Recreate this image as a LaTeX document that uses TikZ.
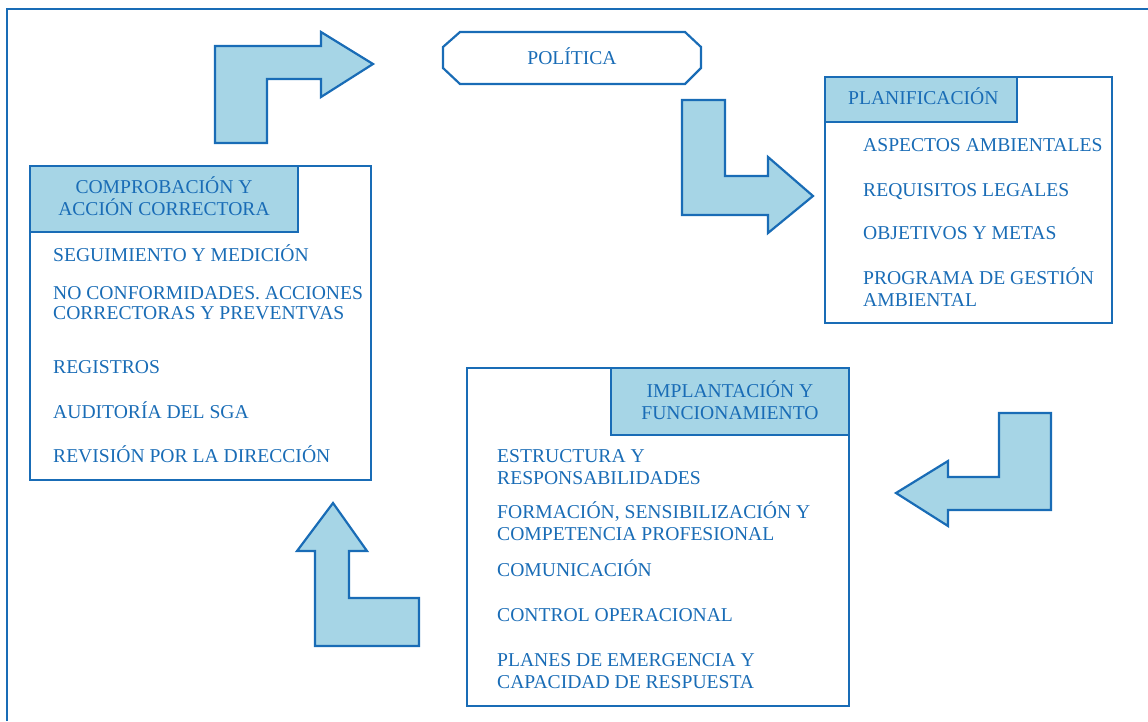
\documentclass[tikz,border=0pt]{standalone}
\usepackage{fontspec}
\setmainfont{Liberation Serif}
\usepackage{tikz}
\usetikzlibrary{positioning, calc}
\definecolor{azulsga}{RGB}{25,108,182}
\definecolor{celeste}{RGB}{166,213,230}
\newcommand{\letra}{\fontsize{19.6}{22}\selectfont}
\tikzset{>=stealth,
	flecha/.style={draw=azulsga, fill=celeste, line width=2.2pt, line join=miter},
	caja/.style={draw=azulsga, line width=2.2pt},
	cabecera/.style={draw=azulsga, fill=celeste, line width=2.2pt},
	texto/.style={text=azulsga, font=\letra, inner sep=0pt}}

\begin{document}
\begin{tikzpicture}[x=1pt, y=-1pt]

			\useasboundingbox (0,0) rectangle (1148,721);

			% marco
			\draw[caja] (7,721) -- (7,9) -- (1148,9);

			% politica
			\draw[caja] (460,32) -- (685,32) -- (701,47) -- (701,68) -- (685,84) -- (460,84) -- (443,68) -- (443,47) -- cycle;
			\node[texto, anchor=base] (pol) at (572,64.5) {POLÍTICA};

			% planificacion
			\draw[caja] (825,77) rectangle (1112,323);
			\draw[cabecera] (825,77) rectangle (1017,122);
			\node[texto, anchor=base west] (plan) at (848,104.5) {PLANIFICACIÓN};
			\foreach \y/\t [count=\i] in {151.5/ASPECTOS AMBIENTALES, 196.5/REQUISITOS LEGALES, 239.5/OBJETIVOS Y METAS, 284.5/PROGRAMA DE GESTIÓN, 306.5/AMBIENTAL}
				\node[texto, anchor=base west] (p\i) at (863,\y) {\t};

			% implantacion
			\draw[caja] (467,368) rectangle (849,706);
			\draw[cabecera] (611,368) rectangle (849,435);
			\node[texto, anchor=base] (impl) at (730,397) {IMPLANTACIÓN Y};
			\node[texto, anchor=base] (func) at (730,419) {FUNCIONAMIENTO};
			\foreach \y/\t [count=\i] in {462.5/ESTRUCTURA Y, 484.5/RESPONSABILIDADES, 518.5/{FORMACIÓN, SENSIBILIZACIÓN Y}, 540.5/COMPETENCIA PROFESIONAL, 576.5/COMUNICACIÓN, 621.5/CONTROL OPERACIONAL, 666.5/PLANES DE EMERGENCIA Y, 688.5/CAPACIDAD DE RESPUESTA}
				\node[texto, anchor=base west] (i\i) at (497,\y) {\t};

			% comprobacion
			\draw[caja] (30,166) rectangle (371,480);
			\draw[cabecera] (30,166) rectangle (298,232);
			\node[texto, anchor=base] (comp) at (164,193.5) {COMPROBACIÓN Y};
			\node[texto, anchor=base] (acc) at (164,215.5) {ACCIÓN CORRECTORA};
			\foreach \y/\t [count=\i] in {261.5/SEGUIMIENTO Y MEDICIÓN, 299.5/NO CONFORMIDADES. ACCIONES, 319.5/CORRECTORAS Y PREVENTVAS, 373.5/REGISTROS, 418.5/AUDITORÍA DEL SGA, 462.5/REVISIÓN POR LA DIRECCIÓN}
				\node[texto, anchor=base west] (c\i) at (53,\y) {\t};

			% flechas del ciclo
			\draw[flecha] (215,143) -- (215,46) -- (321,46) -- (321,32) -- (373,64) -- (321,97) -- (321,79) -- (267,79) -- (267,143) -- cycle;
			\draw[flecha] (682,100) -- (725,100) -- (725,176) -- (768,176) -- (768,157) -- (813,196) -- (768,233) -- (768,215) -- (682,215) -- cycle;
			\draw[flecha] (999,413) -- (1051,413) -- (1051,510) -- (948,510) -- (948,526) -- (896,493) -- (948,461) -- (948,477) -- (999,477) -- cycle;
			\draw[flecha] (315,646) -- (315,551) -- (297,551) -- (333,503) -- (367,551) -- (349,551) -- (349,598) -- (419,598) -- (419,646) -- cycle;

\end{tikzpicture}
\end{document}
